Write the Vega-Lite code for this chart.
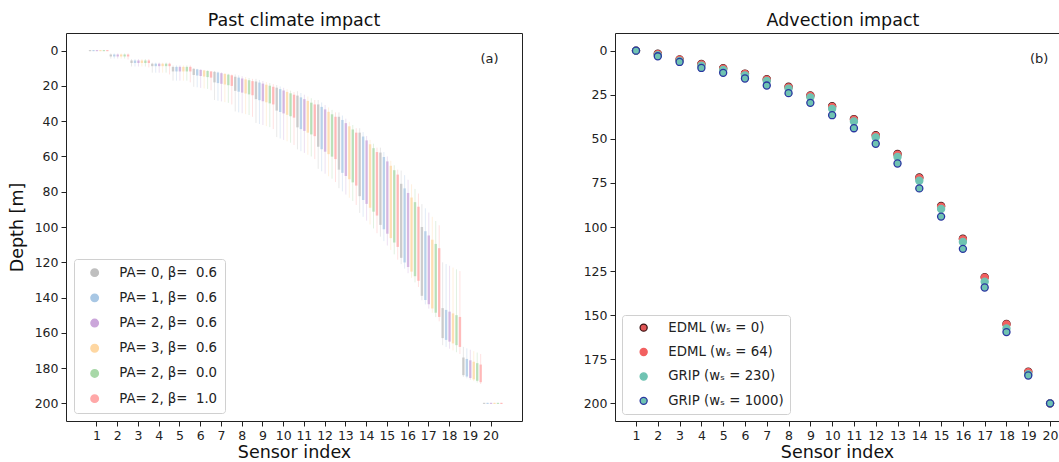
{
  "$schema": "https://vega.github.io/schema/vega-lite/v6.json",
  "padding": {"left": 7, "top": 11, "right": 0, "bottom": 0},
  "spacing": 60,
  "resolve": {
    "scale": {"color": "independent", "fill": "independent", "stroke": "independent", "x": "independent", "y": "independent"},
    "legend": {"color": "independent", "fill": "independent", "stroke": "independent"}
  },
  "config": {
    "font": "DejaVu Sans",
    "view": {"stroke": "#222", "strokeWidth": 1},
    "axis": {"domain": false, "grid": false, "tickColor": "#222", "tickSize": 5, "labelFontSize": 12.5, "labelColor": "#222", "labelPadding": 3, "labelOverlap": false, "titleFontSize": 17.5, "titleFontWeight": "normal", "titleColor": "#111", "domainColor": "#222"},
    "title": {"fontSize": 17.5, "fontWeight": "normal", "color": "#111", "offset": 3.5},
    "legend": {"title": null, "orient": "bottom-left", "symbolType": "circle", "labelFontSize": 13.3, "labelColor": "#222", "strokeColor": "#d0d0d0", "cornerRadius": 3, "fillColor": "white", "labelOffset": 18, "symbolOpacity": 1}
  },
  "datasets": {
    "violins": [
      {"s":1,"g":0,"t":-0.3,"a":-0.3,"b":0.3,"e":0.3},{"s":1,"g":1,"t":-0.3,"a":-0.3,"b":0.3,"e":0.3},{"s":1,"g":2,"t":-0.3,"a":-0.3,"b":0.3,"e":0.3},{"s":1,"g":3,"t":-0.3,"a":-0.3,"b":0.3,"e":0.3},{"s":1,"g":4,"t":-0.3,"a":-0.3,"b":0.3,"e":0.3},{"s":1,"g":5,"t":-0.3,"a":-0.3,"b":0.3,"e":0.3},
      {"s":2,"g":0,"t":1.6,"a":2.2,"b":3.3,"e":4.5},{"s":2,"g":1,"t":1.6,"a":2.2,"b":3.3,"e":4.5},{"s":2,"g":2,"t":1.6,"a":2.2,"b":3.3,"e":4.5},{"s":2,"g":3,"t":1.6,"a":2.2,"b":3.3,"e":4.5},{"s":2,"g":4,"t":1.6,"a":2.2,"b":3.3,"e":4.5},{"s":2,"g":5,"t":1.6,"a":2.2,"b":3.3,"e":5.0},
      {"s":3,"g":0,"t":4.8,"a":5.6,"b":7.0,"e":9.0},{"s":3,"g":1,"t":4.8,"a":5.6,"b":7.0,"e":9.0},{"s":3,"g":2,"t":4.8,"a":5.6,"b":7.0,"e":9.0},{"s":3,"g":3,"t":4.8,"a":5.6,"b":7.0,"e":9.0},{"s":3,"g":4,"t":4.8,"a":5.6,"b":7.0,"e":9.0},{"s":3,"g":5,"t":4.8,"a":5.6,"b":7.0,"e":9.5},
      {"s":4,"g":0,"t":6.8,"a":7.4,"b":8.8,"e":12.5},{"s":4,"g":1,"t":6.8,"a":7.4,"b":8.8,"e":12.5},{"s":4,"g":2,"t":6.8,"a":7.4,"b":8.8,"e":12.5},{"s":4,"g":3,"t":6.8,"a":7.4,"b":8.8,"e":12.5},{"s":4,"g":4,"t":6.8,"a":7.4,"b":8.8,"e":12.5},{"s":4,"g":5,"t":6.8,"a":7.4,"b":8.8,"e":13.5},
      {"s":5,"g":0,"t":8.4,"a":9.2,"b":11.8,"e":17},{"s":5,"g":1,"t":8.4,"a":9.2,"b":11.8,"e":17},{"s":5,"g":2,"t":8.4,"a":9.2,"b":11.8,"e":17},{"s":5,"g":3,"t":8.4,"a":9.2,"b":11.8,"e":17},{"s":5,"g":4,"t":8.4,"a":9.2,"b":11.8,"e":17},{"s":5,"g":5,"t":8.4,"a":9.2,"b":11.8,"e":18},
      {"s":6,"g":0,"t":10,"a":10.3,"b":13.8,"e":20.5},{"s":6,"g":1,"t":10.3,"a":10.6,"b":14.1,"e":20.8},{"s":6,"g":2,"t":10.6,"a":10.9,"b":14.4,"e":21.1},{"s":6,"g":3,"t":10.9,"a":11.2,"b":14.7,"e":21.4},{"s":6,"g":4,"t":11.2,"a":11.5,"b":15.0,"e":21.7},{"s":6,"g":5,"t":11.5,"a":11.8,"b":15.3,"e":22.5},
      {"s":7,"g":0,"t":11.5,"a":12,"b":18,"e":28},{"s":7,"g":1,"t":11.9,"a":12.4,"b":18.4,"e":28.4},{"s":7,"g":2,"t":12.3,"a":12.8,"b":18.8,"e":28.8},{"s":7,"g":3,"t":12.7,"a":13.2,"b":19.2,"e":29.2},{"s":7,"g":4,"t":13.1,"a":13.6,"b":19.6,"e":29.6},{"s":7,"g":5,"t":13.5,"a":14,"b":20,"e":30.5},
      {"s":8,"g":0,"t":13.5,"a":14.8,"b":22.8,"e":34.5},{"s":8,"g":1,"t":14,"a":15.3,"b":23.3,"e":35},{"s":8,"g":2,"t":14.5,"a":15.8,"b":23.8,"e":35.5},{"s":8,"g":3,"t":15,"a":16.3,"b":24.3,"e":36},{"s":8,"g":4,"t":15.5,"a":16.8,"b":24.8,"e":36.5},{"s":8,"g":5,"t":16,"a":17.3,"b":25.3,"e":37.5},
      {"s":9,"g":0,"t":16,"a":17.5,"b":27.5,"e":41},{"s":9,"g":1,"t":16.6,"a":18.1,"b":28.1,"e":41.6},{"s":9,"g":2,"t":17.2,"a":18.7,"b":28.7,"e":42.2},{"s":9,"g":3,"t":17.8,"a":19.3,"b":29.3,"e":42.8},{"s":9,"g":4,"t":18.4,"a":19.9,"b":29.9,"e":43.4},{"s":9,"g":5,"t":19,"a":20.5,"b":30.5,"e":44.5},
      {"s":10,"g":0,"t":19.5,"a":21,"b":34,"e":49},{"s":10,"g":1,"t":20.3,"a":21.8,"b":34.8,"e":49.8},{"s":10,"g":2,"t":21.1,"a":22.6,"b":35.6,"e":50.6},{"s":10,"g":3,"t":21.9,"a":23.4,"b":36.4,"e":51.4},{"s":10,"g":4,"t":22.7,"a":24.2,"b":37.2,"e":52.2},{"s":10,"g":5,"t":23.5,"a":25,"b":38,"e":53.5},
      {"s":11,"g":0,"t":23,"a":25.5,"b":43.5,"e":56},{"s":11,"g":1,"t":24,"a":26.5,"b":44.5,"e":57},{"s":11,"g":2,"t":25,"a":27.5,"b":45.5,"e":58},{"s":11,"g":3,"t":26,"a":28.5,"b":46.5,"e":59},{"s":11,"g":4,"t":27,"a":29.5,"b":47.5,"e":60},{"s":11,"g":5,"t":28,"a":30.5,"b":48.5,"e":61.5},
      {"s":12,"g":0,"t":28,"a":30.5,"b":54.5,"e":67},{"s":12,"g":1,"t":29.4,"a":31.9,"b":55.9,"e":68.4},{"s":12,"g":2,"t":30.8,"a":33.3,"b":57.3,"e":69.8},{"s":12,"g":3,"t":32.2,"a":34.7,"b":58.7,"e":71.2},{"s":12,"g":4,"t":33.6,"a":36.1,"b":60.1,"e":72.6},{"s":12,"g":5,"t":35,"a":37.5,"b":61.5,"e":74.5},
      {"s":13,"g":0,"t":35,"a":37.5,"b":67.5,"e":78},{"s":13,"g":1,"t":36.8,"a":39.3,"b":69.3,"e":79.8},{"s":13,"g":2,"t":38.6,"a":41.1,"b":71.1,"e":81.6},{"s":13,"g":3,"t":40.4,"a":42.9,"b":72.9,"e":83.4},{"s":13,"g":4,"t":42.2,"a":44.7,"b":74.7,"e":85.2},{"s":13,"g":5,"t":44,"a":46.5,"b":76.5,"e":87.5},
      {"s":14,"g":0,"t":44,"a":46.5,"b":82.5,"e":92},{"s":14,"g":1,"t":46.2,"a":48.7,"b":84.7,"e":94.2},{"s":14,"g":2,"t":48.4,"a":50.9,"b":86.9,"e":96.4},{"s":14,"g":3,"t":50.6,"a":53.1,"b":89.1,"e":98.6},{"s":14,"g":4,"t":52.8,"a":55.3,"b":91.3,"e":100.8},{"s":14,"g":5,"t":55,"a":57.5,"b":93.5,"e":103.5},
      {"s":15,"g":0,"t":55,"a":57.8,"b":98.8,"e":105.5},{"s":15,"g":1,"t":57.5,"a":60.3,"b":101.3,"e":108},{"s":15,"g":2,"t":60,"a":62.8,"b":103.8,"e":110.5},{"s":15,"g":3,"t":62.5,"a":65.3,"b":106.3,"e":113},{"s":15,"g":4,"t":65,"a":67.8,"b":108.8,"e":115.5},{"s":15,"g":5,"t":67.5,"a":70.3,"b":111.3,"e":118.5},
      {"s":16,"g":0,"t":68,"a":75.5,"b":117.5,"e":121},{"s":16,"g":1,"t":70.6,"a":78.1,"b":120.1,"e":123.6},{"s":16,"g":2,"t":73.2,"a":80.7,"b":122.7,"e":126.2},{"s":16,"g":3,"t":75.8,"a":83.3,"b":125.3,"e":128.8},{"s":16,"g":4,"t":78.4,"a":85.9,"b":127.9,"e":131.4},{"s":16,"g":5,"t":81,"a":88.5,"b":130.5,"e":134},
      {"s":17,"g":0,"t":87,"a":100,"b":139,"e":141.5},{"s":17,"g":1,"t":89.4,"a":102.4,"b":141.4,"e":143.9},{"s":17,"g":2,"t":91.8,"a":104.8,"b":143.8,"e":146.3},{"s":17,"g":3,"t":94.2,"a":107.2,"b":146.2,"e":148.7},{"s":17,"g":4,"t":96.6,"a":109.6,"b":148.6,"e":151.1},{"s":17,"g":5,"t":99,"a":112,"b":151,"e":153.5},
      {"s":18,"g":0,"t":120,"a":146,"b":163,"e":167},{"s":18,"g":1,"t":121,"a":147,"b":164,"e":168},{"s":18,"g":2,"t":122,"a":148,"b":165,"e":169},{"s":18,"g":3,"t":123,"a":149,"b":166,"e":170},{"s":18,"g":4,"t":124,"a":150,"b":167,"e":171},{"s":18,"g":5,"t":125,"a":151,"b":168,"e":172},
      {"s":19,"g":0,"t":168,"a":174,"b":184,"e":185},{"s":19,"g":1,"t":168.8,"a":174.8,"b":184.8,"e":185.8},{"s":19,"g":2,"t":169.6,"a":175.6,"b":185.6,"e":186.6},{"s":19,"g":3,"t":170.4,"a":176.4,"b":186.4,"e":187.4},{"s":19,"g":4,"t":171.2,"a":177.2,"b":187.2,"e":188.2},{"s":19,"g":5,"t":172,"a":178,"b":188,"e":189},
      {"s":20,"g":0,"t":199.7,"a":199.7,"b":200.3,"e":200.3},{"s":20,"g":1,"t":199.7,"a":199.7,"b":200.3,"e":200.3},{"s":20,"g":2,"t":199.7,"a":199.7,"b":200.3,"e":200.3},{"s":20,"g":3,"t":199.7,"a":199.7,"b":200.3,"e":200.3},{"s":20,"g":4,"t":199.7,"a":199.7,"b":200.3,"e":200.3},{"s":20,"g":5,"t":199.7,"a":199.7,"b":200.3,"e":200.3}
    ],
    "adv": [
      {"s":1,"k":"E0","d":0},{"s":2,"k":"E0","d":1.8},{"s":3,"k":"E0","d":5.0},{"s":4,"k":"E0","d":7.6},{"s":5,"k":"E0","d":10.0},{"s":6,"k":"E0","d":13.0},{"s":7,"k":"E0","d":16.2},{"s":8,"k":"E0","d":20.5},{"s":9,"k":"E0","d":25.4},{"s":10,"k":"E0","d":31.5},{"s":11,"k":"E0","d":38.8},{"s":12,"k":"E0","d":47.9},{"s":13,"k":"E0","d":58.6},{"s":14,"k":"E0","d":71.9},{"s":15,"k":"E0","d":88.1},{"s":16,"k":"E0","d":106.6},{"s":17,"k":"E0","d":128.4},{"s":18,"k":"E0","d":155.0},{"s":19,"k":"E0","d":182.0},{"s":20,"k":"E0","d":200},
      {"s":1,"k":"E64","d":0},{"s":2,"k":"E64","d":2.0},{"s":3,"k":"E64","d":5.2},{"s":4,"k":"E64","d":7.8},{"s":5,"k":"E64","d":10.2},{"s":6,"k":"E64","d":13.2},{"s":7,"k":"E64","d":16.5},{"s":8,"k":"E64","d":20.8},{"s":9,"k":"E64","d":25.7},{"s":10,"k":"E64","d":31.9},{"s":11,"k":"E64","d":39.2},{"s":12,"k":"E64","d":48.3},{"s":13,"k":"E64","d":59.0},{"s":14,"k":"E64","d":72.3},{"s":15,"k":"E64","d":88.5},{"s":16,"k":"E64","d":107.0},{"s":17,"k":"E64","d":128.8},{"s":18,"k":"E64","d":155.3},{"s":19,"k":"E64","d":182.3},{"s":20,"k":"E64","d":200},
      {"s":1,"k":"G230","d":0},{"s":2,"k":"G230","d":2.6},{"s":3,"k":"G230","d":5.8},{"s":4,"k":"G230","d":8.6},{"s":5,"k":"G230","d":11.0},{"s":6,"k":"G230","d":14.0},{"s":7,"k":"G230","d":17.2},{"s":8,"k":"G230","d":21.6},{"s":9,"k":"G230","d":26.5},{"s":10,"k":"G230","d":33.0},{"s":11,"k":"G230","d":40.2},{"s":12,"k":"G230","d":49.2},{"s":13,"k":"G230","d":60.3},{"s":14,"k":"G230","d":73.8},{"s":15,"k":"G230","d":89.8},{"s":16,"k":"G230","d":108.5},{"s":17,"k":"G230","d":131.0},{"s":18,"k":"G230","d":157.5},{"s":19,"k":"G230","d":183.5},{"s":20,"k":"G230","d":200},
      {"s":1,"k":"G1000","d":0},{"s":2,"k":"G1000","d":3.2},{"s":3,"k":"G1000","d":6.4},{"s":4,"k":"G1000","d":9.8},{"s":5,"k":"G1000","d":12.6},{"s":6,"k":"G1000","d":15.8},{"s":7,"k":"G1000","d":19.8},{"s":8,"k":"G1000","d":24.1},{"s":9,"k":"G1000","d":29.6},{"s":10,"k":"G1000","d":36.6},{"s":11,"k":"G1000","d":44.0},{"s":12,"k":"G1000","d":52.8},{"s":13,"k":"G1000","d":64.0},{"s":14,"k":"G1000","d":78.1},{"s":15,"k":"G1000","d":94.1},{"s":16,"k":"G1000","d":112.4},{"s":17,"k":"G1000","d":134.3},{"s":18,"k":"G1000","d":159.6},{"s":19,"k":"G1000","d":184.2},{"s":20,"k":"G1000","d":200}
    ]
  },
  "hconcat": [
    {
      "width": 456,
      "height": 388,
      "title": {"text": "Past climate impact"},
      "layer": [
        {
          "data": {"name": "violins"},
          "mark": {"type": "point", "filled": true, "size": 0, "opacity": 0},
          "encoding": {
            "x": {"field": "s", "type": "ordinal", "title": "Sensor index", "scale": {"type": "band", "paddingInner": 0, "paddingOuter": 0.993}, "axis": {"labelAngle": 0, "titlePadding": 2}},
            "y": {"field": "a", "type": "quantitative", "title": "Depth [m]", "scale": {"domain": [-10, 210], "reverse": true, "nice": false, "zero": false}, "axis": {"values": [0,20,40,60,80,100,120,140,160,180,200], "labelOverlap": false, "titlePadding": 8}},
            "color": {"field": "g", "type": "nominal", "scale": {"domain": [0,1,2,3,4,5], "range": ["#bfbfbf", "#a8c7e4", "#cba6da", "#fed7a2", "#a8d8a8", "#ffa8a8"]},
              "legend": {"offset": 8, "padding": 7, "symbolOffset": 7, "symbolSize": 55, "rowPadding": 10.2, "labelExpr": "['PA= 0, β= \u00a00.6','PA= 1, β= \u00a00.6','PA= 2, β= \u00a00.6','PA= 3, β= \u00a00.6','PA= 2, β= \u00a00.0','PA= 2, β= \u00a01.0'][datum.value]"}}
          }
        },
        {
          "data": {"name": "violins"},
          "mark": {"type": "rule", "strokeWidth": 1, "opacity": 0.35},
          "encoding": {
            "x": {"field": "s", "type": "ordinal", "title": "Sensor index"},
            "xOffset": {"field": "g", "type": "nominal", "scale": {"paddingInner": 0, "paddingOuter": 0, "range": [1.73, 22.48]}},
            "y": {"field": "t", "type": "quantitative", "title": "Depth [m]", "axis": {"values": [0,20,40,60,80,100,120,140,160,180,200], "labelOverlap": false, "titlePadding": 8}},
            "y2": {"field": "e"},
            "color": {"field": "g", "type": "nominal", "legend": null}
          }
        },
        {
          "data": {"name": "violins"},
          "mark": {"type": "rule", "strokeWidth": 2.4, "opacity": 0.75},
          "encoding": {
            "x": {"field": "s", "type": "ordinal", "title": "Sensor index"},
            "xOffset": {"field": "g", "type": "nominal", "scale": {"paddingInner": 0, "paddingOuter": 0, "range": [1.73, 22.48]}},
            "y": {"field": "a", "type": "quantitative", "title": "Depth [m]", "axis": {"values": [0,20,40,60,80,100,120,140,160,180,200], "labelOverlap": false, "titlePadding": 8}},
            "y2": {"field": "b"},
            "color": {"field": "g", "type": "nominal", "legend": null}
          }
        },
        {
          "data": {"values": [{"s": 20, "d": 4.5, "lbl": "(a)"}]},
          "mark": {"type": "text", "fontSize": 13, "color": "#222", "dx": -1.5},
          "encoding": {
            "x": {"field": "s", "type": "ordinal", "title": "Sensor index"},
            "y": {"field": "d", "type": "quantitative", "title": "Depth [m]", "axis": {"values": [0,20,40,60,80,100,120,140,160,180,200], "labelOverlap": false, "titlePadding": 8}},
            "text": {"field": "lbl"}
          }
        }
      ]
    },
    {
      "width": 444,
      "height": 388,
      "title": {"text": "Advection impact", "dx": 6},
      "view": {"stroke": null},
      "resolve": {"axis": {"x": "independent"}},
      "layer": [
        {
          "data": {"name": "adv"},
          "mark": {"type": "point", "filled": true, "size": 50, "strokeWidth": 1.3, "opacity": 1},
          "encoding": {
            "x": {"field": "s", "type": "quantitative", "title": "Sensor index", "scale": {"domain": [0.036, 20.41], "nice": false, "zero": false}, "axis": {"values": [1,2,3,4,5,6,7,8,9,10,11,12,13,14,15,16,17,18,19,20], "labelFlush": false, "domain": true, "titlePadding": 2}},
            "y": {"field": "d", "type": "quantitative", "title": null, "scale": {"domain": [-10, 210], "reverse": true, "nice": false, "zero": false}, "axis": {"values": [0,25,50,75,100,125,150,175,200], "domain": true}},
            "fill": {"field": "k", "type": "nominal", "scale": {"domain": ["E0", "E64", "G230", "G1000"], "range": ["#e05555", "#f26060", "#6fc3b2", "#6fc3b2"]},
              "legend": {"offset": 7, "padding": 6, "symbolOffset": 9, "symbolSize": 50, "symbolStrokeWidth": 1.3, "rowPadding": 10.4, "labelExpr": "{'E0':'EDML (wₛ = 0)','E64':'EDML (wₛ = 64)','G230':'GRIP (wₛ = 230)','G1000':'GRIP (wₛ = 1000)'}[datum.value]"}},
            "stroke": {"field": "k", "type": "nominal", "scale": {"domain": ["E0", "E64", "G230", "G1000"], "range": ["#3a1515", "#f26060", "#6fc3b2", "#2a36a0"]},
              "legend": {"offset": 7, "padding": 6, "symbolOffset": 9, "symbolSize": 50, "symbolStrokeWidth": 1.3, "rowPadding": 10.4, "labelExpr": "{'E0':'EDML (wₛ = 0)','E64':'EDML (wₛ = 64)','G230':'GRIP (wₛ = 230)','G1000':'GRIP (wₛ = 1000)'}[datum.value]"}}
          }
        },
        {
          "data": {"values": [{"s": 19.5, "d": 4.5, "lbl": "(b)"}]},
          "mark": {"type": "text", "fontSize": 13, "color": "#222"},
          "encoding": {
            "x": {"field": "s", "type": "quantitative", "axis": {"orient": "top", "labels": false, "ticks": false, "title": null, "domain": true}},
            "y": {"field": "d", "type": "quantitative", "title": null},
            "text": {"field": "lbl"}
          }
        }
      ]
    }
  ]
}
